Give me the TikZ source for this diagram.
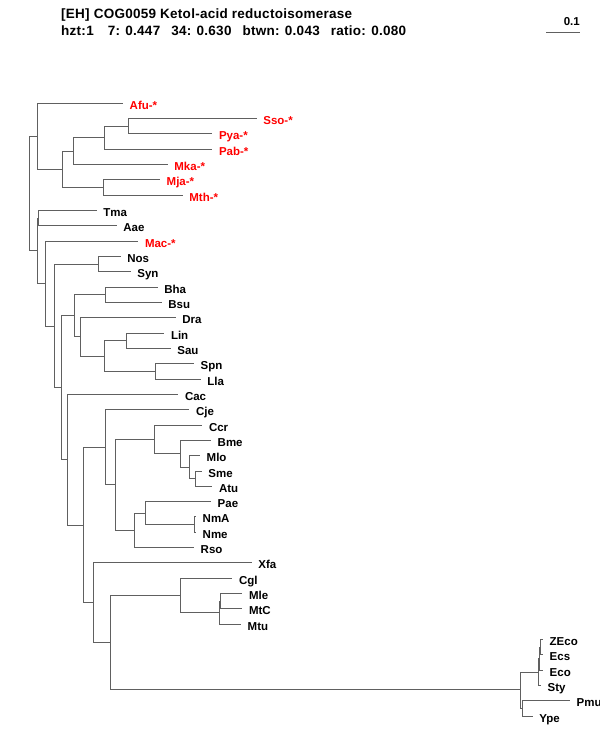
\documentclass[tikz,border=0pt]{standalone}
\usepackage{fontspec}
\setmainfont{Liberation Sans}
\newfontfamily\hdrfont{Liberation Sans}[LetterSpace=2]
\definecolor{branchgray}{RGB}{96,96,96}
\definecolor{redlbl}{RGB}{255,0,0}
\tikzset{
  branch/.style={draw=branchgray, line width=1.7pt},
  leaf/.style={anchor=west, inner xsep=6.5pt, inner ysep=0pt, text height=11.3pt, text depth=0pt,
    font=\fontsize{11.5}{13}\selectfont\bfseries, text=black},
  redleaf/.style={leaf, text=redlbl},
  hdr/.style={anchor=base west, inner sep=0pt, font=\fontsize{13.5}{16}\hdrfont\bfseries}
}
\begin{document}
\begin{tikzpicture}[x=1pt,y=-1pt]
\path[use as bounding box, fill=white] (0,0) rectangle (600,750);
% header
\node[hdr] (title) at (61,18) {[EH] COG0059 Ketol-acid reductoisomerase};
\node[hdr] (stats) at (61,35) {hzt:1\hspace{14pt}7: 0.447\hspace{11pt}34: 0.630\hspace{11pt}btwn: 0.043\hspace{11pt}ratio: 0.080};
% scale bar
\coordinate (sbL) at (546,32.5);
\coordinate (sbR) at (580,32.5);
\draw[branch] (sbL) -- (sbR);
\node[anchor=base east, inner sep=0pt, font=\fontsize{11.5}{13}\selectfont\bfseries] (sblbl) at (580,25) {0.1};
% leaves
\node[redleaf] (Afu) at (123,103.5) {Afu-*};
\node[redleaf] (Sso) at (256.7,118.5) {Sso-*};
\node[redleaf] (Pya) at (212.3,133.5) {Pya-*};
\node[redleaf] (Pab) at (212.3,149.5) {Pab-*};
\node[redleaf] (Mka) at (167.7,164.5) {Mka-*};
\node[redleaf] (Mja) at (160,179.5) {Mja-*};
\node[redleaf] (Mth) at (182.7,195.5) {Mth-*};
\node[leaf] (Tma) at (96.7,210.5) {Tma};
\node[leaf] (Aae) at (116.7,225.5) {Aae};
\node[redleaf] (Mac) at (138.3,241.5) {Mac-*};
\node[leaf] (Nos) at (120.7,256.5) {Nos};
\node[leaf] (Syn) at (130.7,271.5) {Syn};
\node[leaf] (Bha) at (157.7,287.5) {Bha};
\node[leaf] (Bsu) at (161.7,302.5) {Bsu};
\node[leaf] (Dra) at (175.7,317.5) {Dra};
\node[leaf] (Lin) at (164.3,333.5) {Lin};
\node[leaf] (Sau) at (170.7,348.5) {Sau};
\node[leaf] (Spn) at (194,363.5) {Spn};
\node[leaf] (Lla) at (200.7,379.5) {Lla};
\node[leaf] (Cac) at (178.3,394.5) {Cac};
\node[leaf] (Cje) at (189.3,409.5) {Cje};
\node[leaf] (Ccr) at (202.3,425.5) {Ccr};
\node[leaf] (Bme) at (211,440.5) {Bme};
\node[leaf] (Mlo) at (200,455.5) {Mlo};
\node[leaf] (Sme) at (201.7,471.5) {Sme};
\node[leaf] (Atu) at (212.3,486.5) {Atu};
\node[leaf] (Pae) at (211,501.5) {Pae};
\node[leaf] (NmA) at (196,516.5) {NmA};
\node[leaf] (Nme) at (196,532.5) {Nme};
\node[leaf] (Rso) at (194,547.5) {Rso};
\node[leaf] (Xfa) at (251.7,562.5) {Xfa};
\node[leaf] (Cgl) at (232.3,578.5) {Cgl};
\node[leaf] (Mle) at (242.3,593.5) {Mle};
\node[leaf] (MtC) at (242.3,608.5) {MtC};
\node[leaf] (Mtu) at (241,624.5) {Mtu};
\node[leaf] (ZEco) at (543,639.5) {ZEco};
\node[leaf] (Ecs) at (543,654.5) {Ecs};
\node[leaf] (Eco) at (543,670.5) {Eco};
\node[leaf] (Sty) at (541,685.5) {Sty};
\node[leaf] (Pmu) at (570,700.5) {Pmu};
\node[leaf] (Ype) at (532.7,716.5) {Ype};
% internal nodes
\coordinate (nSP) at (128.5,126.5);
\coordinate (nSPP) at (104.5,137.5);
\coordinate (nMka) at (73.5,151.5);
\coordinate (nMM) at (103.5,187.5);
\coordinate (nA2) at (62.5,169.5);
\coordinate (nArc) at (37.5,136.5);
\coordinate (nTA) at (38.5,218.5);
\coordinate (nNS) at (98.5,264.5);
\coordinate (nBB) at (105.5,294.5);
\coordinate (nLS) at (126.5,340.5);
\coordinate (nSL) at (155.5,371.5);
\coordinate (nLSSL) at (104.5,356.5);
\coordinate (nDra) at (80.5,336.5);
\coordinate (nBac) at (74.5,315.5);
\coordinate (nSA) at (195.5,478.5);
\coordinate (nMlo) at (189.5,467.5);
\coordinate (nBme) at (180.5,453.5);
\coordinate (nCcr) at (154.5,439.5);
\coordinate (nNN) at (194.5,524.5);
\coordinate (nPae) at (145.5,513.5);
\coordinate (nRso) at (134.5,530.5);
\coordinate (nAlpha) at (115.5,484.5);
\coordinate (nCje) at (105.5,447.5);
\coordinate (nMM2) at (220.5,601.5);
\coordinate (nMt) at (219.5,612.5);
\coordinate (nCgl) at (180.5,595.5);
\coordinate (nZE) at (540.5,647.5);
\coordinate (nZEE) at (539.5,658.5);
\coordinate (nESty) at (538.5,672.5);
\coordinate (nPY) at (522.5,708.5);
\coordinate (nEnt) at (520.5,689.5);
\coordinate (nAE) at (110.5,642.5);
\coordinate (nXfa) at (93.5,602.5);
\coordinate (nBig) at (83.5,525.5);
\coordinate (nCac) at (67.5,459.5);
\coordinate (nFirm) at (61.5,387.5);
\coordinate (nNSF) at (54.5,326.5);
\coordinate (nMac) at (45.5,283.5);
\coordinate (nTAM) at (37.5,250.5);
\coordinate (root) at (29.5,193.5);
% branches
\foreach \p/\c in {
  nSP/Sso.west, nSP/Pya.west, nSPP/nSP, nSPP/Pab.west, nMka/nSPP, nMka/Mka.west,
  nMM/Mja.west, nMM/Mth.west, nA2/nMka, nA2/nMM, nArc/Afu.west, nArc/nA2,
  nTA/Tma.west, nTA/Aae.west, nNS/Nos.west, nNS/Syn.west, nBB/Bha.west, nBB/Bsu.west,
  nLS/Lin.west, nLS/Sau.west, nSL/Spn.west, nSL/Lla.west, nLSSL/nLS, nLSSL/nSL,
  nDra/Dra.west, nDra/nLSSL, nBac/nBB, nBac/nDra,
  nSA/Sme.west, nSA/Atu.west, nMlo/Mlo.west, nMlo/nSA, nBme/Bme.west, nBme/nMlo,
  nCcr/Ccr.west, nCcr/nBme, nNN/NmA.west, nNN/Nme.west, nPae/Pae.west, nPae/nNN,
  nRso/nPae, nRso/Rso.west, nAlpha/nCcr, nAlpha/nRso, nCje/Cje.west, nCje/nAlpha,
  nMM2/Mle.west, nMM2/MtC.west, nMt/nMM2, nMt/Mtu.west, nCgl/Cgl.west, nCgl/nMt,
  nZE/ZEco.west, nZE/Ecs.west, nZEE/nZE, nZEE/Eco.west, nESty/nZEE, nESty/Sty.west,
  nPY/Pmu.west, nPY/Ype.west, nEnt/nESty, nEnt/nPY, nAE/nCgl, nAE/nEnt,
  nXfa/Xfa.west, nXfa/nAE, nBig/nCje, nBig/nXfa, nCac/Cac.west, nCac/nBig,
  nFirm/nBac, nFirm/nCac, nNSF/nNS, nNSF/nFirm, nMac/Mac.west, nMac/nNSF,
  nTAM/nTA, nTAM/nMac, root/nArc, root/nTAM}
  \draw[branch] (\p) |- (\c);
\end{tikzpicture}
\end{document}
